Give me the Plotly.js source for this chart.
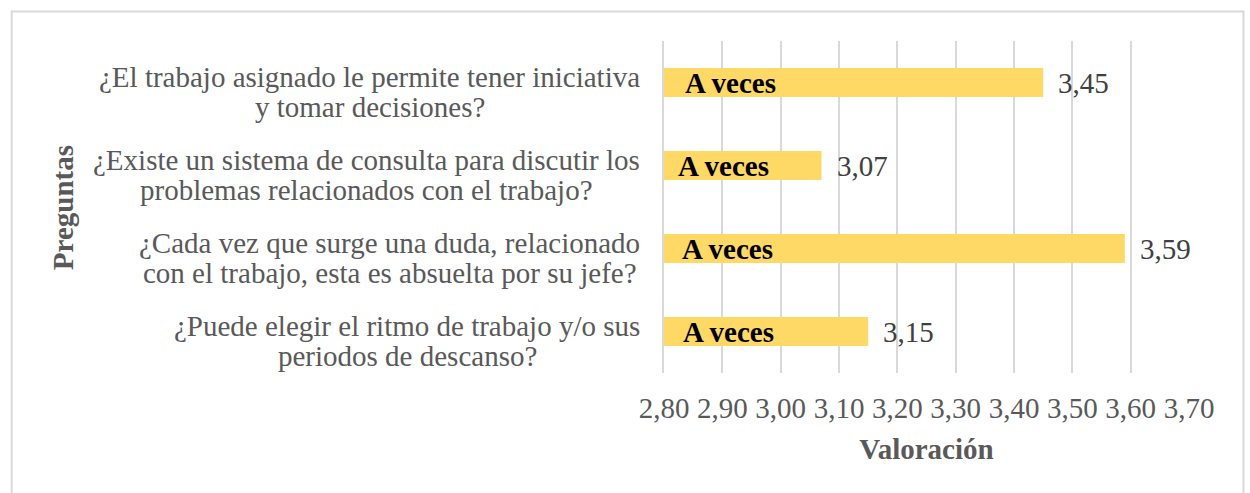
<!DOCTYPE html>
<html><head><meta charset="utf-8">
<script src="https://cdn.plot.ly/plotly-3.0.1.min.js"></script>
<style>html,body{margin:0;padding:0;background:#fff}#chart{width:1250px;height:493px}</style>
</head><body><div id="chart"></div>
<script>
// ---- data ----
const questionLines = [
  ["¿El trabajo asignado le permite tener iniciativa", "y tomar decisiones?"],
  ["¿Existe un sistema de consulta para discutir los", "problemas relacionados con el trabajo?"],
  ["¿Cada vez que surge una duda, relacionado", "con el trabajo, esta es absuelta por su jefe?"],
  ["¿Puede elegir el ritmo de trabajo y/o sus", "periodos de descanso?"]
];
const categories = questionLines.map(l => l.join(" "));
const values = [3.45, 3.07, 3.59, 3.15];
const barLabels = ["A veces", "A veces", "A veces", "A veces"];
const xTitle = "Valoración";
const yTitle = "Preguntas";

// ---- layout constants (pixels) ----
const W = 1250, H = 493;
const plotL = 663.7, plotR = 1189, plotT = 41, plotB = 373;
const labelRight = 640;
const barLabelShift = [19, 12, 16, 17];
const FONT = "Liberation Serif, Times New Roman, serif";

const ctx = document.createElement("canvas").getContext("2d");
ctx.font = "29px Liberation Serif, serif";

const annotations = [];
questionLines.forEach((lines, i) => {
  const maxW = Math.max(...lines.map(t => ctx.measureText(t).width));
  const cx = labelRight - maxW / 2;
  const shifts = [6, -24];
  lines.forEach((t, j) => {
    annotations.push({
      xref: "paper", yref: "y", x: 0, y: categories[i], text: t, showarrow: false,
      xanchor: "center", yanchor: "middle", xshift: cx - plotL, yshift: shifts[j],
      font: {family: FONT, size: 29, color: "#595959"}
    });
  });
});
values.forEach((v, i) => {
  annotations.push({
    xref: "x", yref: "y", x: v, y: categories[i], text: v.toFixed(2).replace(".", ","),
    showarrow: false, xanchor: "left", yanchor: "middle", xshift: 13,
    font: {family: FONT, size: 29, color: "#404040"}
  });
  annotations.push({
    xref: "x", yref: "y", x: 2.8, y: categories[i], text: barLabels[i],
    showarrow: false, xanchor: "left", yanchor: "middle", xshift: barLabelShift[i],
    font: {family: FONT, size: 29, color: "#000000", weight: "bold"}
  });
});
const pw = plotR - plotL, ph = plotB - plotT;
annotations.push({
  xref: "paper", yref: "paper", x: (62 - plotL) / pw, y: (plotB - 207.5) / ph,
  text: yTitle, textangle: -90, showarrow: false, xanchor: "center", yanchor: "middle",
  font: {family: FONT, size: 29, color: "#595959", weight: "bold"}
});

const trace = {
  type: "bar", orientation: "h", x: values, y: categories,
  marker: {color: "#FFD966"}, width: 0.35, hoverinfo: "none"
};

const layout = {
  width: W, height: H,
  margin: {l: plotL, r: W - plotR, t: plotT, b: H - plotB, pad: 0},
  paper_bgcolor: "#ffffff", plot_bgcolor: "#ffffff",
  separators: ",.",
  showlegend: false,
  xaxis: {
    range: [2.8, 3.7], tick0: 2.8, dtick: 0.1, tickformat: ".2f",
    showgrid: true, gridcolor: "#d9d9d9", gridwidth: 2, zeroline: false, showline: false,
    ticks: "", ticklabelstandoff: 15, tickfont: {family: FONT, size: 29, color: "#595959"},
    title: {text: xTitle, standoff: 15, font: {family: FONT, size: 29, color: "#595959", weight: "bold"}}
  },
  yaxis: {
    type: "category", categoryorder: "array", categoryarray: categories,
    range: [3.5, -0.5], showticklabels: false, showgrid: false, zeroline: false,
    showline: true, linecolor: "#d9d9d9", linewidth: 2, ticks: ""
  },
  annotations: annotations,
  shapes: [{
    type: "rect", xref: "paper", yref: "paper",
    x0: (11 - plotL) / pw, x1: (1243.5 - plotL) / pw,
    y0: (plotB - 520) / ph, y1: (plotB - 11.5) / ph,
    line: {color: "#d9d9d9", width: 2}, fillcolor: "rgba(0,0,0,0)"
  }]
};

Plotly.newPlot("chart", [trace], layout, {displayModeBar: false, staticPlot: true});
</script>
</body></html>
